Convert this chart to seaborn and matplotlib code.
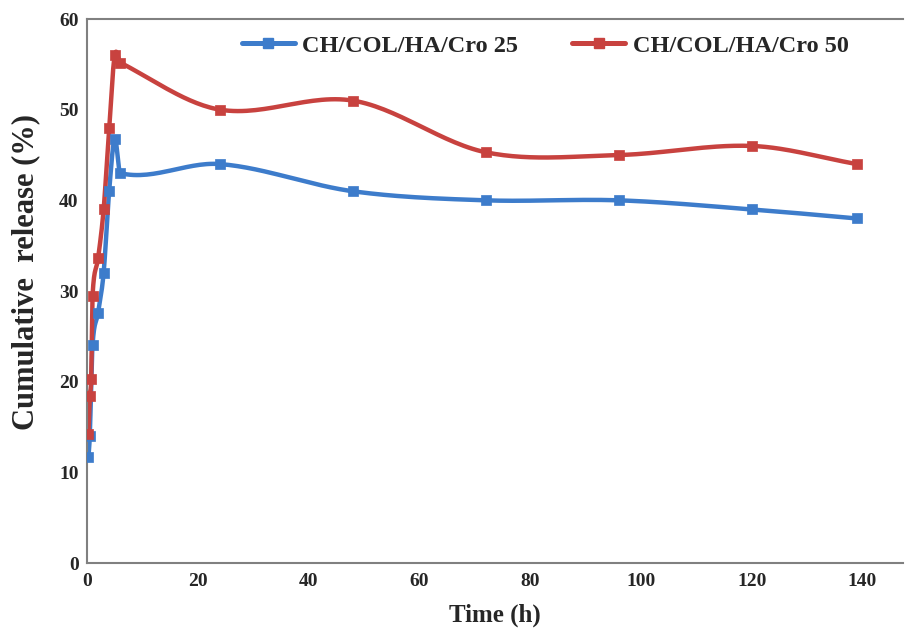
import numpy as np
import pandas as pd
import seaborn as sns
import matplotlib
matplotlib.use("Agg")
import matplotlib.pyplot as plt

# ---- data ----
time_25 = [0.25, 0.5, 1, 2, 3, 4, 5, 6, 24, 48, 72, 96, 120, 139]
rel_25 = [11.7, 14.0, 24.0, 27.6, 32.0, 41.0, 46.8, 43.0, 44.0, 41.0, 40.0, 40.0, 39.0, 38.0]
time_50 = [0.25, 0.5, 0.75, 1, 2, 3, 4, 5, 6, 24, 48, 72, 96, 120, 139]
rel_50 = [14.2, 18.4, 20.3, 29.5, 33.6, 39.0, 48.0, 56.0, 55.2, 50.0, 51.0, 45.3, 45.0, 46.0, 44.0]
labels = ["CH/COL/HA/Cro 25", "CH/COL/HA/Cro 50"]
colors = ["#3D7CCB", "#C8423F"]
x_ticks = [0, 20, 40, 60, 80, 100, 120, 140]
y_ticks = [0, 10, 20, 30, 40, 50, 60]


def smooth(x, y, n=30):
    """Cardinal (Catmull-Rom) spline in x, like a smoothed line."""
    x = np.asarray(x, float); y = np.asarray(y, float)
    m = np.zeros_like(y)
    m[1:-1] = (y[2:] - y[:-2]) / (x[2:] - x[:-2])
    m[0] = (y[1] - y[0]) / (x[1] - x[0])
    m[-1] = (y[-1] - y[-2]) / (x[-1] - x[-2])
    xs, ys = [], []
    for i in range(len(x) - 1):
        h = x[i + 1] - x[i]
        t = np.linspace(0, 1, n, endpoint=False)
        h00 = 2 * t**3 - 3 * t**2 + 1
        h10 = t**3 - 2 * t**2 + t
        h01 = -2 * t**3 + 3 * t**2
        h11 = t**3 - t**2
        xs.extend(x[i] + t * h)
        ys.extend(h00 * y[i] + h10 * h * m[i] + h01 * y[i + 1] + h11 * h * m[i + 1])
    xs.append(x[-1]); ys.append(y[-1])
    return np.array(xs), np.array(ys)


df = pd.concat([
    pd.DataFrame({"Time": time_25, "Release": rel_25, "Series": labels[0]}),
    pd.DataFrame({"Time": time_50, "Release": rel_50, "Series": labels[1]}),
])

sns.set_style("white")
plt.rcParams["font.family"] = ["Liberation Serif", "DejaVu Serif"]
plt.rcParams["font.weight"] = "bold"

fig = plt.figure(figsize=(9.08, 6.37), dpi=100)
ax = fig.add_axes([87 / 908, 1 - 563 / 637, 0.995 - 87 / 908, (563 - 19) / 637])

handles = []
for (tx, ry), lab, col in zip([(time_25, rel_25), (time_50, rel_50)], labels, colors):
    sx, sy = smooth(tx, ry)
    sub = pd.DataFrame({"Time": sx, "Release": sy})
    sns.lineplot(data=sub, x="Time", y="Release", ax=ax, color=col, lw=3.2,
                 sort=False, estimator=None)
    d = df[df["Series"] == lab]
    sns.scatterplot(data=d, x="Time", y="Release", ax=ax, color=col, marker="s",
                    s=60, edgecolor=col, linewidth=0.5, zorder=3)
    handles.append(plt.Line2D([], [], color=col, lw=3.6, marker="s", markersize=7))

ax.set_xlim(0, 147.4)
ax.set_ylim(0, 60)
ax.set_xticks(x_ticks)
ax.set_yticks(y_ticks)
ax.tick_params(axis="both", labelsize=14, length=0)
ax.tick_params(axis="x", pad=7)
ax.tick_params(axis="y", pad=6)
for lbl in ax.get_xticklabels() + ax.get_yticklabels():
    lbl.set_fontweight("bold")

for side in ["left", "bottom", "top"]:
    ax.spines[side].set_color("#808080")
    ax.spines[side].set_linewidth(1.5)
ax.spines["right"].set_visible(False)

ax.set_xlabel("Time (h)", fontsize=18, fontweight="bold", labelpad=10)
ax.set_ylabel("Cumulative  release (%)", fontsize=22, fontweight="bold", labelpad=8)
ax.yaxis.set_label_coords(-0.057, 0.535)

ax.legend(handles, labels, loc="upper left", bbox_to_anchor=(0.17, 1.0), ncol=2,
          frameon=False, prop={"size": 17.5, "weight": "bold"}, handlelength=2.2,
          columnspacing=2.2, handletextpad=0.3, borderaxespad=0.25)

fig.savefig("out.png", dpi=100)
